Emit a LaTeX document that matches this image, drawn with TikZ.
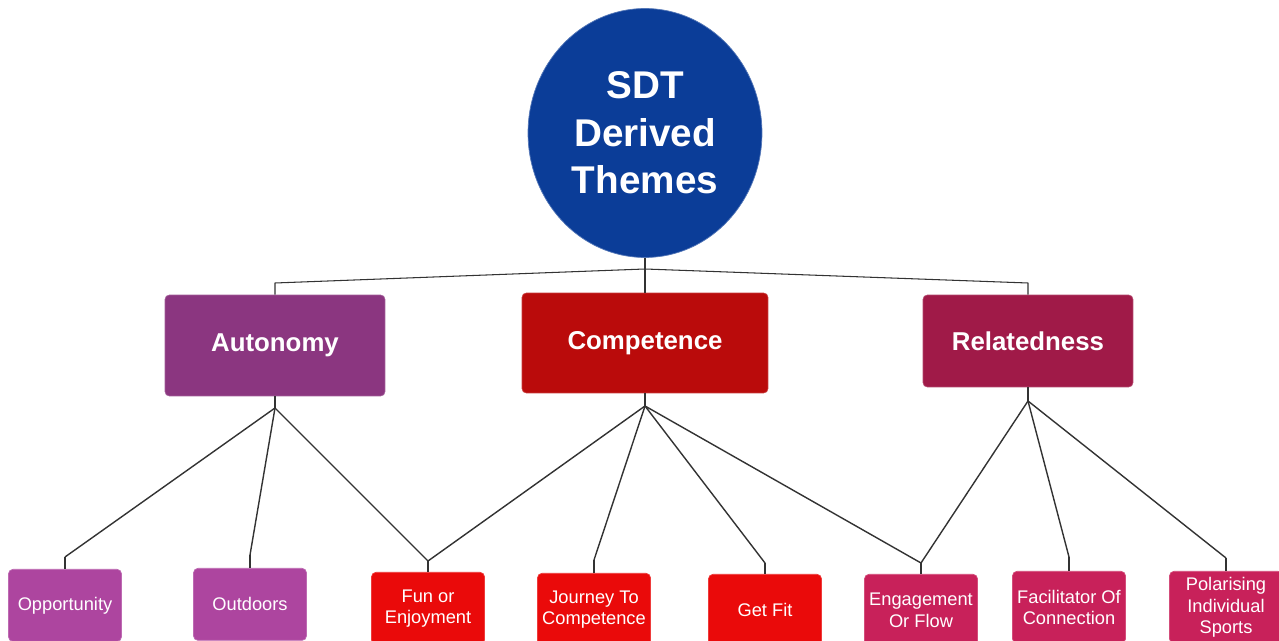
\documentclass[tikz,border=0pt]{standalone}
\usepackage{fontspec}
\setmainfont{Liberation Sans}
\usetikzlibrary{positioning,calc,shapes.geometric}
\definecolor{sdtblue}{HTML}{0B3D98}
\definecolor{autpurple}{HTML}{8B3680}
\definecolor{compred}{HTML}{BA0B0B}
\definecolor{relcrimson}{HTML}{A01A48}
\definecolor{autlight}{HTML}{AD459F}
\definecolor{complight}{HTML}{EA0A0A}
\definecolor{rellight}{HTML}{C8215A}
\tikzset{theme/.style={draw=#1!80!white,fill=#1,rounded corners=2.5pt,text=white,inner sep=0pt,font=\bfseries\fontsize{14.7}{17}\selectfont}  }
\tikzset{sub/.style={draw=#1!80!white,fill=#1,rounded corners=2.5pt,text=white,align=center,inner sep=0pt,minimum width=2.26cm,minimum height=1.44cm,anchor=north,font=\fontsize{10.4}{12}\selectfont}  }
\tikzset{link/.style={draw=black!80,line width=0.8pt,line join=round}  }

\begin{document}
\begin{tikzpicture}[x=0.02cm,y=-0.02cm]
	\useasboundingbox (0,0) rectangle (1279,641);

	% root and the three needs
	\node[ellipse,fill=sdtblue,draw=sdtblue!70!white,minimum width=4.68cm,minimum height=4.98cm,inner sep=0pt,text=white,align=center,font=\bfseries\fontsize{22}{27}\selectfont] (sdt) at (645,133) {SDT\\Derived\\Themes};
	\node[theme=autpurple,minimum width=4.4cm,minimum height=2.02cm] (aut) at (275,345.5) {Autonomy};
	\node[theme=compred,minimum width=4.92cm,minimum height=2cm] (comp) at (645,343) {Competence};
	\node[theme=relcrimson,minimum width=4.2cm,minimum height=1.84cm] (rel) at (1028,341) {Relatedness};

	% themes
	\node[sub=autlight] (opp) at (65,569) {Opportunity};
	\node[sub=autlight] (outd) at (250,568) {Outdoors};
	\node[sub=complight] (fun) at (428,572) {Fun or\\Enjoyment};
	\node[sub=complight] (jour) at (594,573) {Journey To\\Competence};
	\node[sub=complight] (fit) at (765,574) {Get Fit};
	\node[sub=rellight] (eng) at (921,574) {Engagement\\Or Flow};
	\node[sub=rellight] (fac) at (1069,571) {Facilitator Of\\Connection};
	\node[sub=rellight] (pol) at (1226,571) {Polarising\\Individual\\Sports};

	% branch points
	\coordinate (top) at (645,269);
	\coordinate (autk) at (275,283);
	\coordinate (relk) at (1028,283);
	\coordinate (autf) at (275,408);
	\coordinate (compf) at (645,406);
	\coordinate (relf) at (1028,401);
	\coordinate (k-opp) at (65,557);
	\coordinate (k-outd) at (250,555);
	\coordinate (k-fun) at (428,561);
	\coordinate (k-jour) at (594,560);
	\coordinate (k-fit) at (765,563);
	\coordinate (k-eng) at (921,563);
	\coordinate (k-fac) at (1069,557);
	\coordinate (k-pol) at (1226,558);

	\draw[link,line width=0.6pt] (sdt.south) -- (top) -- (comp.north);
	\draw[link,line width=0.6pt] (top) -- (autk) -- (aut.north);
	\draw[link,line width=0.6pt] (top) -- (relk) -- (rel.north);

	\draw[link] (aut.south) -- (autf);
	\draw[link] (comp.south) -- (compf);
	\draw[link] (rel.south) -- (relf);
	\foreach \n in {opp,outd,fun} \draw[link] (autf) -- (k-\n);
	\foreach \n in {fun,jour,fit,eng} \draw[link] (compf) -- (k-\n);
	\foreach \n in {eng,fac,pol} \draw[link] (relf) -- (k-\n);
	\foreach \n in {opp,outd,fun,jour,fit,eng,fac,pol} \draw[link] (k-\n) -- (\n.north);
\end{tikzpicture}
\end{document}
